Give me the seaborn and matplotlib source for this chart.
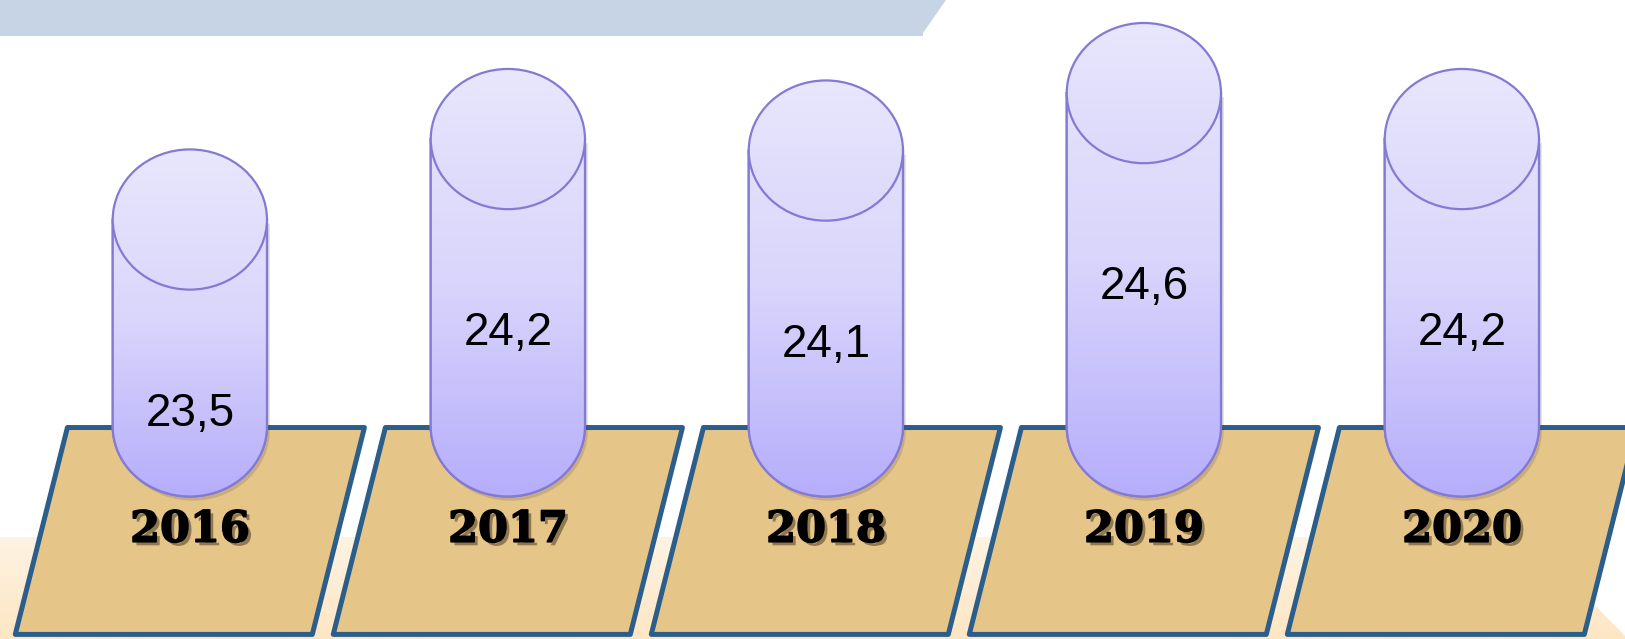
import numpy as np
import seaborn as sns
import matplotlib
matplotlib.use("Agg")
import matplotlib.pyplot as plt
from matplotlib.patches import Polygon, Ellipse, PathPatch
from matplotlib.path import Path
from matplotlib.colors import LinearSegmentedColormap
import matplotlib.patheffects as pe

# data
years = ["2016", "2017", "2018", "2019", "2020"]
values = [23.5, 24.2, 24.1, 24.6, 24.2]

sns.set_theme(style="white")
plt.rcParams['font.family'] = ['Liberation Sans', 'DejaVu Sans']

fig = plt.figure(figsize=(16.25, 6.39), dpi=100)
ax = fig.add_axes([0, 0, 1, 1])
ax.set_xlim(-0.597, 4.513)
ax.set_ylim(19.24, 24.80)
ax.axis("off")

# top banner
ft = fig.transFigure
banner = Polygon([(0, 1), (946 / 1625, 1), (923 / 1625, 1 - 33 / 639),
                  (923 / 1625, 1 - 36 / 639), (0, 1 - 36 / 639)],
                 closed=True, transform=ft, facecolor="#C6D4E6", edgecolor="none", zorder=0)
ax.add_patch(banner)

# peach band at the bottom
peach = Polygon([(0, 1 - 537 / 639), (1528 / 1625, 1 - 537 / 639), (1, 1 - 636 / 639),
                 (1, 0), (0, 0)], closed=True, transform=ft, facecolor="none",
                edgecolor="none", zorder=0)
ax.add_patch(peach)
peach_cmap = LinearSegmentedColormap.from_list("peach", ["#FDE6C3", "#FEF3E3"])
grad = np.linspace(0, 1, 100).reshape(-1, 1)
im = ax.imshow(grad, cmap=peach_cmap, extent=[0, 1, 0, 1 - 537 / 639], transform=ft,
               aspect="auto", origin="lower", zorder=0)
im.set_clip_path(peach)

# parallelogram plates
pw, skew = 0.934, 0.082
p_top, p_bot = 21.08, 19.28
for i, yr in enumerate(years):
    pts = [(i - pw / 2 + skew, p_top), (i + pw / 2 + skew, p_top),
           (i + pw / 2 - skew, p_bot), (i - pw / 2 - skew, p_bot)]
    ax.add_patch(Polygon(pts, closed=True, facecolor="#E6C589", edgecolor="#2B5E8A",
                         linewidth=3.6, joinstyle="round", zorder=1))
    ax.text(i, 20.19, yr, ha="center", va="center", fontsize=31, fontweight="bold",
            family="DejaVu Serif", color="black", zorder=5,
            path_effects=[pe.SimplePatchShadow(offset=(2.5, -2.5), shadow_rgbFace="#4a3a20", alpha=0.55),
                          pe.withStroke(linewidth=1.1, foreground="black")])

# cylinders
cw = 0.485
cap = 1.22
base = 21.09
body_cmap = LinearSegmentedColormap.from_list("body", ["#B6AEFB", "#D9D5FB", "#E9E7FD"])
cap_cmap = LinearSegmentedColormap.from_list("cap", ["#DCD8FB", "#E9E7FD"])
edge = "#8479D4"
t = np.linspace(np.pi, 2 * np.pi, 60)
for i, v in enumerate(values):
    yc = v - cap / 2
    xs = [i - cw / 2] + list(i + cw / 2 * np.cos(t)) + [i + cw / 2, i + cw / 2]
    ys = [yc] + list(base + cap / 2 * np.sin(t)) + [yc, yc]
    verts = list(zip(xs, ys))
    codes = [Path.MOVETO] + [Path.LINETO] * (len(verts) - 2) + [Path.CLOSEPOLY]
    body = PathPatch(Path(verts, codes), facecolor="none", edgecolor=edge, linewidth=1.6,
                     zorder=3, path_effects=[pe.SimplePatchShadow(offset=(2, -3), alpha=0.2),
                                             pe.Normal()])
    ax.add_patch(body)
    img = ax.imshow(grad, cmap=body_cmap, extent=[i - cw / 2, i + cw / 2, base - cap / 2, v],
                    aspect="auto", origin="lower", zorder=3.5)
    img.set_clip_path(body)
    ax.add_patch(PathPatch(Path(verts, codes), facecolor="none", edgecolor=edge,
                           linewidth=1.6, zorder=3.6))
    top = Ellipse((i, yc), cw, cap, facecolor="none", edgecolor=edge, linewidth=1.6, zorder=4)
    ax.add_patch(top)
    img2 = ax.imshow(grad, cmap=cap_cmap, extent=[i - cw / 2, i + cw / 2, v - cap, v],
                     aspect="auto", origin="lower", zorder=3.8)
    img2.set_clip_path(top)
    ax.text(i, v - 2.3, f"{v:.1f}".replace(".", ","), ha="center", va="center",
            fontsize=33, color="black", zorder=5)

ax.set_xlim(-0.597, 4.513)
ax.set_ylim(19.24, 24.80)
fig.savefig("out.png", dpi=100)
